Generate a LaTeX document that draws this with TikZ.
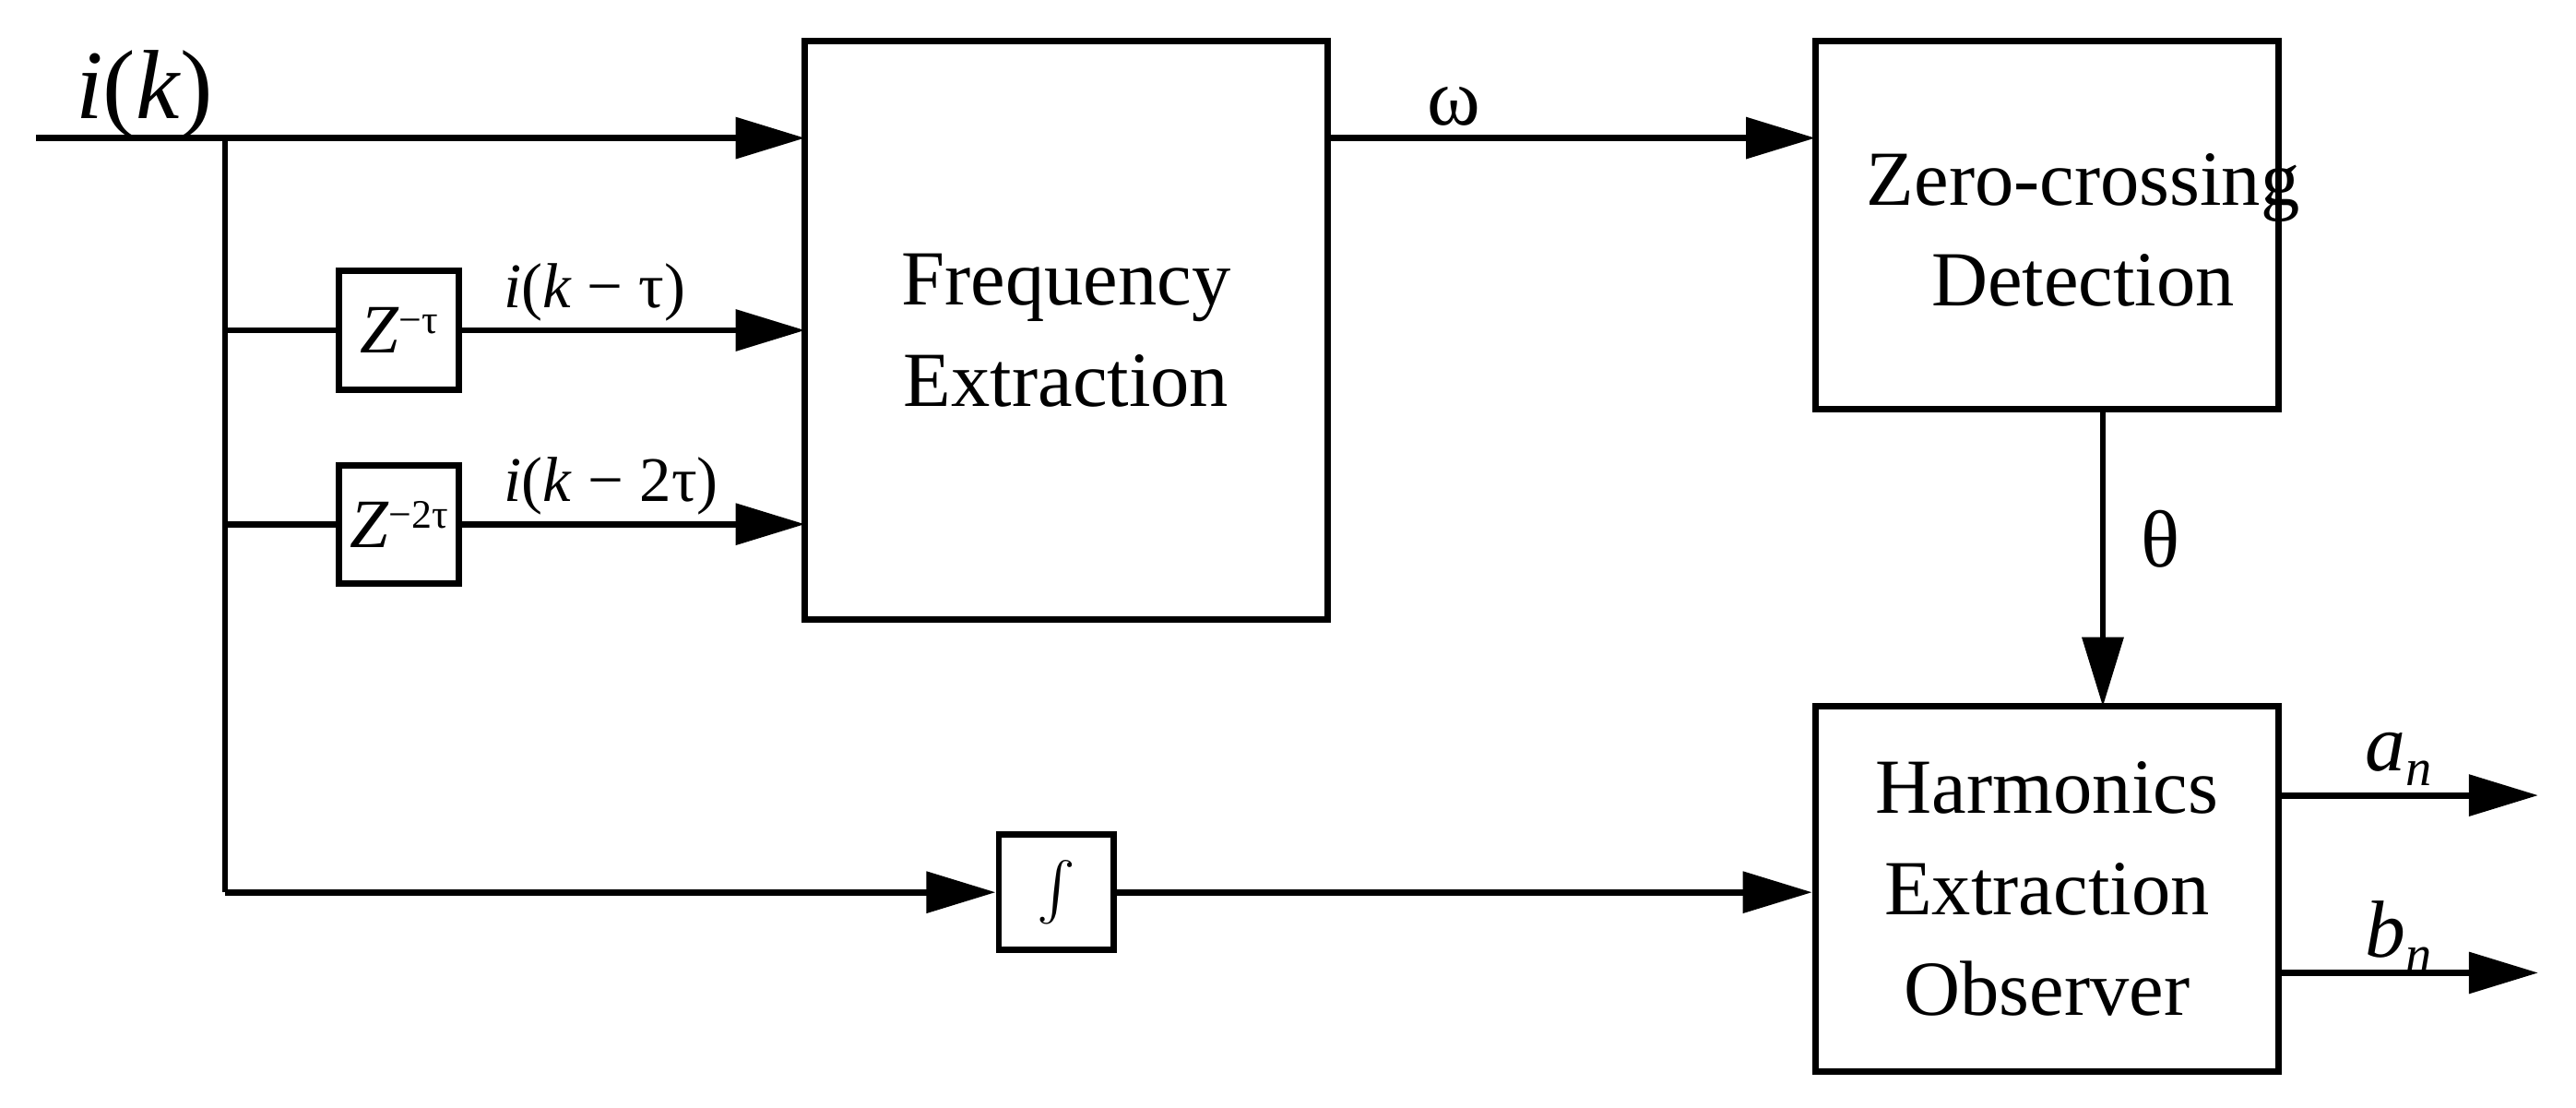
\documentclass[tikz,border=0pt]{standalone}
\usepackage{fontspec}
\setmainfont{Liberation Serif}
\usetikzlibrary{arrows.meta}
\newcommand{\myit}[1]{\textit{#1}}
\begin{document}
\begin{tikzpicture}[x=0.01cm,y=-0.01cm,
  blk/.style={draw,line width=1.1pt,inner sep=0pt},
  ln/.style={line width=1.1pt},
  ar/.style={ln,-{Triangle[length=12pt,width=7pt]}},
  big/.style={font=\fontsize{13.5}{17.5}\selectfont,align=center},
  lab/.style={font=\fontsize{11}{13}\selectfont},
  gl/.style={font=\fontsize{14}{16}\selectfont}]
\useasboundingbox (0,0) rectangle (1568,674);
\node[blk,minimum width=318*0.01cm,minimum height=352*0.01cm] (fe) at (649,201) {};
\node[big] at (649,201) {Frequency\\Extraction};
\node[blk,minimum width=282*0.01cm,minimum height=224*0.01cm] (zc) at (1246,137) {};
\node[big] at (1268,140) {Zero-crossing\\Detection};
\node[blk,minimum width=282*0.01cm,minimum height=222*0.01cm] (he) at (1246,541) {};
\node[big] at (1246,541) {Harmonics\\Extraction\\Observer};
\node[blk,minimum width=73*0.01cm,minimum height=72*0.01cm] (z1) at (243,201) {};
\node[font=\fontsize{12}{14}\selectfont] at (243,201) {\myit{Z}\raisebox{0.6ex}{\fontsize{7}{8}\selectfont −τ}};
\node[blk,minimum width=73*0.01cm,minimum height=72*0.01cm] (z2) at (243,319) {};
\node[font=\fontsize{12}{14}\selectfont] at (243,319) {\myit{Z}\raisebox{0.6ex}{\fontsize{7}{8}\selectfont −2τ}};
\node[blk,minimum width=70*0.01cm,minimum height=70*0.01cm] (int) at (643,543) {$\int$};
\coordinate (in) at (22,84);
\coordinate (j0) at (137,84);
\coordinate (j1) at (137,201);
\coordinate (j2) at (137,319);
\coordinate (j3) at (137,543);
\coordinate (a) at (1545,484);
\coordinate (b) at (1545,592);
\draw[ar] (in) -- (490,84);
\draw[ln] (j0) -- (j3);
\draw[ln] (j1) -- (z1.west);
\draw[ln] (j2) -- (z2.west);
\draw[ar] (z1.east) -- (490,201);
\draw[ar] (z2.east) -- (490,319);
\draw[ar] (j3) -- (int.west);
\draw[ar] (int.east) -- (he.west|-int.east);
\draw[ar] (808,84) -- (1105,84);
\draw[ar] (1280,249) -- (1280,430);
\draw[ar] (1387,484) -- (a);
\draw[ar] (1387,592) -- (b);
\node[font=\fontsize{17}{19}\selectfont] at (88,58) {\myit{i}(\myit{k})};
\node[lab] at (362,178) {\myit{i}(\myit{k} − τ)};
\node[lab] at (372,296) {\myit{i}(\myit{k} − 2τ)};
\node[gl] at (885,65) {ω};
\node[gl] at (1315,328) {θ};
\node[gl] at (1460,462) {\myit{a}\raisebox{-0.4ex}{\fontsize{9}{10}\selectfont\myit{n}}};
\node[gl] at (1460,570) {\myit{b}\raisebox{-0.4ex}{\fontsize{9}{10}\selectfont\myit{n}}};
\end{tikzpicture}
\end{document}
